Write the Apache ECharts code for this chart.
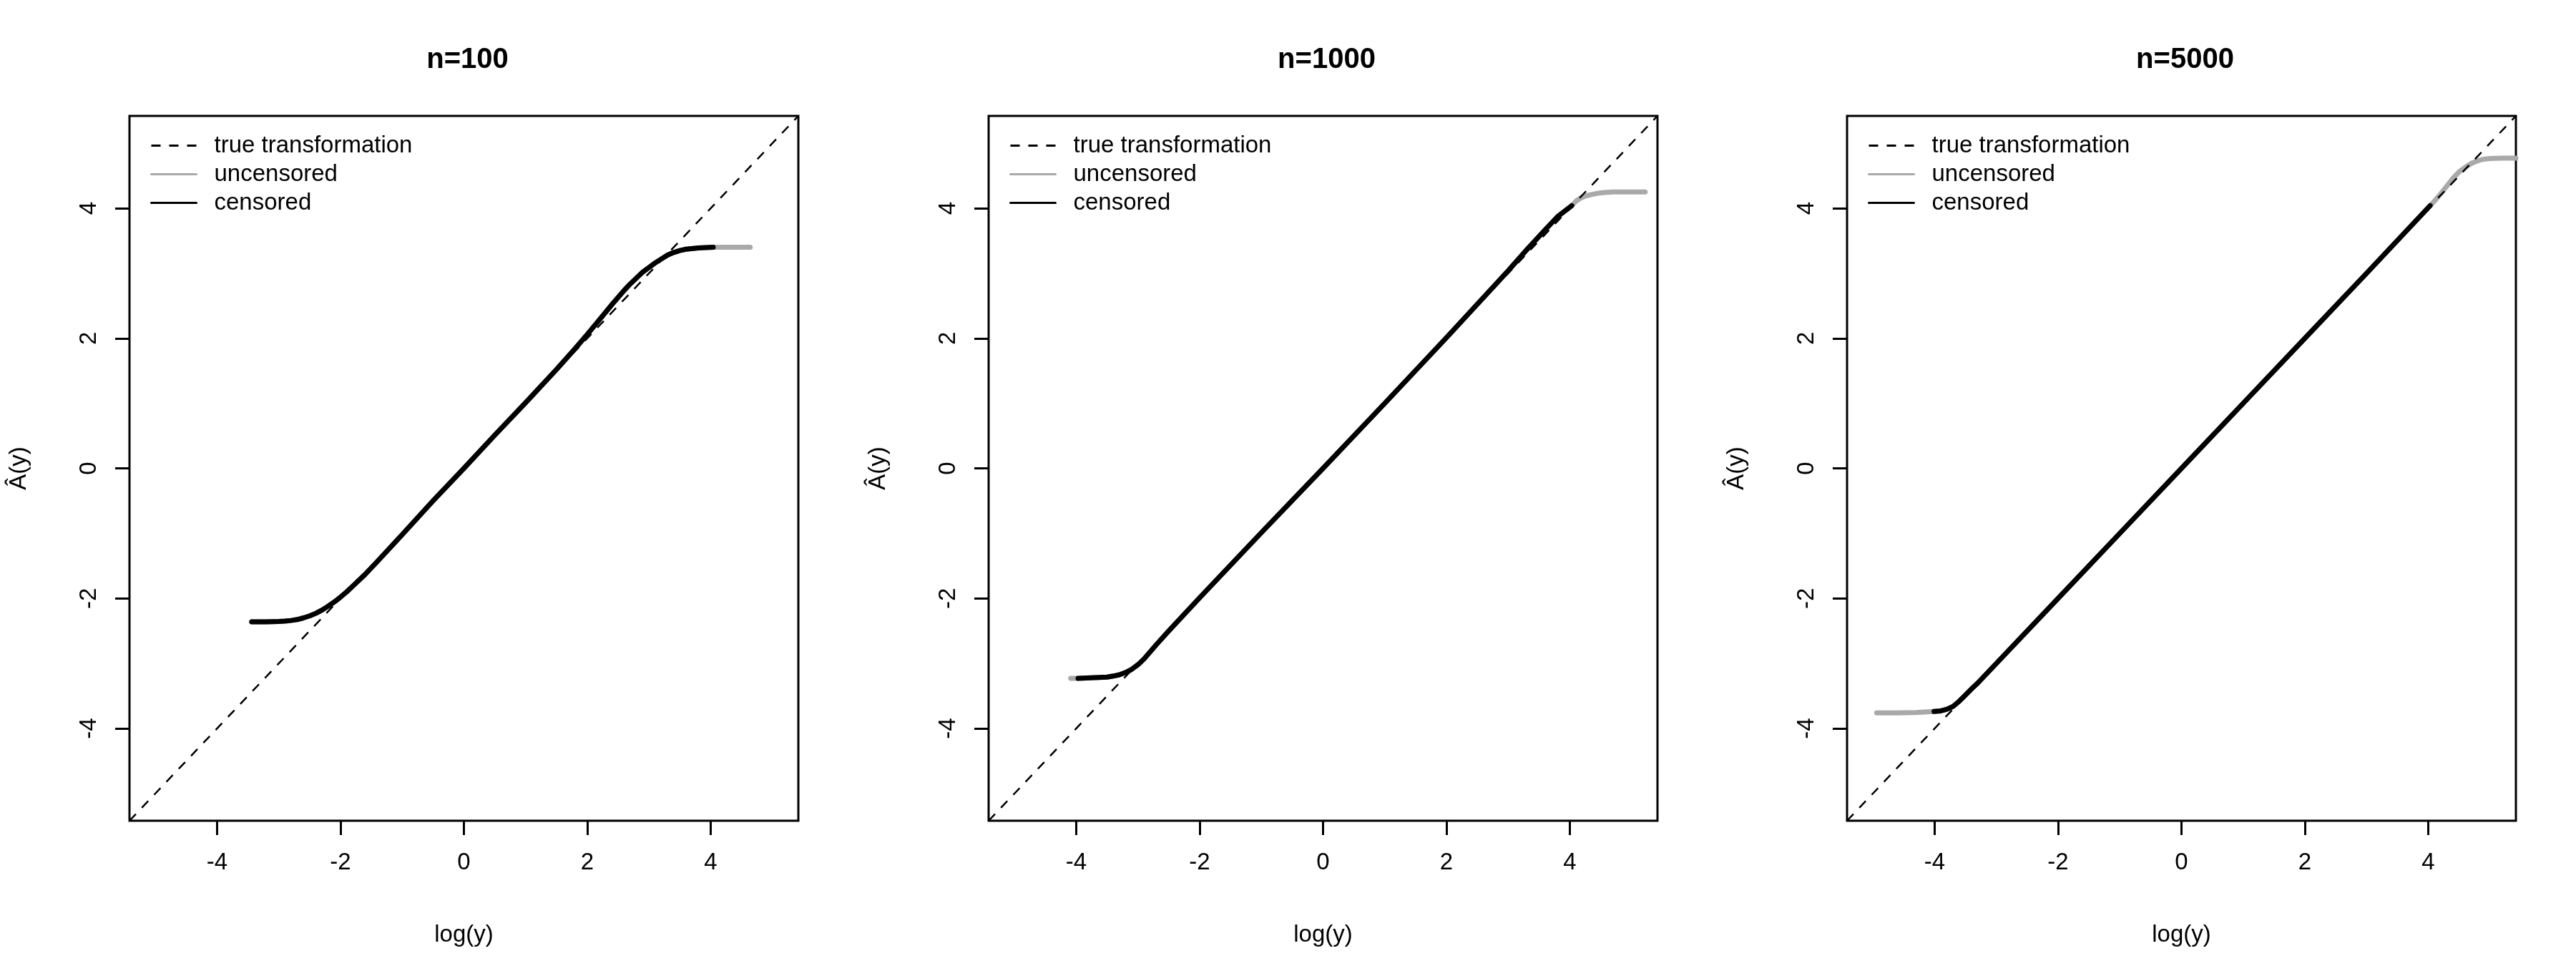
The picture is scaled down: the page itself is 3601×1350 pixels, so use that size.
<!DOCTYPE html>
<html>
<head>
<meta charset="utf-8">
<script src="https://cdn.jsdelivr.net/npm/echarts@6/dist/echarts.min.js"></script>
<style>
html,body{margin:0;padding:0;background:#fff;}
#chart{width:3601px;height:1350px;}
</style>
</head>
<body>
<div id="chart"></div>
<script>
// ---------- data ----------
const panelTitles = ['n=100', 'n=1000', 'n=5000'];
const legendNames = ['true transformation', 'uncensored', 'censored'];
const tickValues = [-4, -2, 0, 2, 4];
const xAxisTitle = 'log(y)';
const yAxisTitle = 'Â(y)';

// true transformation (identity line, corner to corner)
const trueX = [-5.42, 5.42];
const trueY = [-5.42, 5.42];

// n = 100
const cens100X = [-3.44,-3.2,-3.0,-2.9,-2.8,-2.7,-2.6,-2.5,-2.4,-2.3,-2.2,-2.1,-2.0,-1.9,-1.8,-1.6,-1.4,-1.0,-0.5,0,0.5,1.0,1.5,1.8,2.0,2.2,2.4,2.6,2.7,2.8,2.9,3.0,3.1,3.2,3.3,3.4,3.5,3.6,3.8,4.04];
const cens100Y = [-2.36,-2.36,-2.355,-2.35,-2.34,-2.325,-2.30,-2.27,-2.23,-2.18,-2.12,-2.055,-1.98,-1.90,-1.81,-1.63,-1.43,-1.02,-0.50,0.0,0.51,1.01,1.52,1.84,2.06,2.29,2.52,2.74,2.84,2.93,3.02,3.09,3.16,3.22,3.28,3.32,3.35,3.37,3.39,3.40];
const unc100X = [-3.44,-3.2,-3.0,-2.9,-2.8,-2.7,-2.6,-2.5,-2.4,-2.3,-2.2,-2.1,-2.0,-1.9,-1.8,-1.6,-1.4,-1.0,-0.5,0,0.5,1.0,1.5,1.8,2.0,2.2,2.4,2.6,2.7,2.8,2.9,3.0,3.1,3.2,3.3,3.4,3.5,3.6,3.8,4.04,4.3,4.64];
const unc100Y = [-2.36,-2.36,-2.355,-2.35,-2.34,-2.325,-2.30,-2.27,-2.23,-2.18,-2.12,-2.055,-1.98,-1.90,-1.81,-1.63,-1.43,-1.02,-0.50,0.0,0.51,1.01,1.52,1.84,2.06,2.29,2.52,2.74,2.84,2.93,3.02,3.09,3.16,3.22,3.28,3.32,3.35,3.37,3.39,3.40,3.40,3.40];

// n = 1000
const cens1000X = [-3.97,-3.7,-3.5,-3.4,-3.3,-3.2,-3.1,-3.0,-2.9,-2.8,-2.7,-2.5,-2.0,-1.0,0,1.0,2.0,3.0,3.3,3.6,3.8,4.03];
const cens1000Y = [-3.23,-3.22,-3.21,-3.195,-3.175,-3.14,-3.09,-3.02,-2.93,-2.82,-2.71,-2.50,-1.99,-0.99,0.0,1.0,2.01,3.04,3.36,3.67,3.87,4.04];
const unc1000X = [-4.09,-3.97,-3.7,-3.5,-3.4,-3.3,-3.2,-3.1,-3.0,-2.9,-2.8,-2.7,-2.5,-2.0,-1.0,0,1.0,2.0,3.0,3.3,3.6,3.8,4.03,4.1,4.18,4.26,4.35,4.45,4.53,4.7,5.0,5.22];
const unc1000Y = [-3.23,-3.23,-3.22,-3.21,-3.195,-3.175,-3.14,-3.09,-3.02,-2.93,-2.82,-2.71,-2.50,-1.99,-0.99,0.0,1.0,2.01,3.04,3.36,3.67,3.87,4.04,4.11,4.16,4.19,4.21,4.23,4.24,4.25,4.25,4.25];

// n = 5000
const cens5000X = [-4.01,-3.9,-3.8,-3.7,-3.6,-3.5,-3.4,-3.3,-3.0,-2.0,-1.0,0,1.0,2.0,3.0,4.03];
const cens5000Y = [-3.74,-3.73,-3.705,-3.66,-3.58,-3.485,-3.39,-3.30,-3.0,-2.0,-1.0,0,1.0,2.0,3.0,4.04];
const unc5000X = [-4.94,-4.6,-4.3,-4.01,-3.9,-3.8,-3.7,-3.6,-3.5,-3.4,-3.3,-3.0,-2.0,-1.0,0,1.0,2.0,3.0,4.03,4.1,4.2,4.3,4.4,4.5,4.6,4.7,4.8,4.9,5.0,5.2,5.42];
const unc5000Y = [-3.76,-3.76,-3.755,-3.74,-3.73,-3.705,-3.66,-3.58,-3.485,-3.39,-3.30,-3.0,-2.0,-1.0,0,1.0,2.0,3.0,4.04,4.11,4.22,4.34,4.46,4.56,4.63,4.69,4.73,4.755,4.765,4.77,4.77];

const censX = [cens100X, cens1000X, cens5000X];
const censY = [cens100Y, cens1000Y, cens5000Y];
const uncX = [unc100X, unc1000X, unc5000X];
const uncY = [unc100Y, unc1000Y, unc5000Y];

// ---------- chart ----------
const zip = (xs, ys) => xs.map((x, i) => [x, ys[i]]);
const FONT = '"Liberation Sans", Arial, Helvetica, sans-serif';
const panelLeft = [181, 1382, 2582];
const panelW = 935, panelTop = 162, panelH = 985;
const axMin = -5.42, axMax = 5.42;

const grids = [], xAxes = [], yAxes = [], series = [], titles = [], legends = [];
for (let i = 0; i < 3; i++) {
  grids.push({
    left: panelLeft[i], top: panelTop, width: panelW, height: panelH,
    show: true, borderColor: '#000', borderWidth: 3, backgroundColor: 'transparent',
    containLabel: false
  });
  const axisCommon = {
    type: 'value', gridIndex: i, min: axMin, max: axMax,
    axisLine: { show: false, onZero: false },
    splitLine: { show: false },
    axisTick: { show: true, customValues: tickValues, length: 20, lineStyle: { color: '#000', width: 3 } },
    nameLocation: 'middle',
    nameTextStyle: { fontSize: 33, color: '#000', fontFamily: FONT }
  };
  xAxes.push(Object.assign({}, axisCommon, {
    position: 'bottom',
    name: xAxisTitle, nameGap: 143,
    axisLabel: { customValues: tickValues, fontSize: 33, color: '#000', fontFamily: FONT, margin: 42 }
  }));
  yAxes.push(Object.assign({}, axisCommon, {
    position: 'left',
    name: yAxisTitle, nameGap: 138, nameRotate: 90,
    axisLabel: { customValues: tickValues, fontSize: 33, color: '#000', fontFamily: FONT, margin: 40, rotate: 90 }
  }));
  titles.push({
    text: panelTitles[i],
    left: panelLeft[i] + panelW / 2, top: 59, textAlign: 'center',
    textStyle: { fontSize: 40, fontWeight: 'bold', color: '#000', fontFamily: FONT }
  });
  legends.push({
    data: legendNames,
    orient: 'vertical',
    left: panelLeft[i] + 24, top: 182,
    itemWidth: 63, itemHeight: 14, itemGap: 7,
    selectedMode: false,
    itemStyle: { opacity: 0 },
    lineStyle: { width: 3 },
    textStyle: { fontSize: 33, color: '#000', fontFamily: FONT, lineHeight: 33, padding: [0, 0, 0, 20] }
  });
  series.push({
    name: 'uncensored', type: 'line', xAxisIndex: i, yAxisIndex: i,
    data: zip(uncX[i], uncY[i]), showSymbol: false, symbol: 'none',
    smooth: false,
    lineStyle: { color: '#a9a9a9', width: 7, cap: 'round', join: 'round' },
    itemStyle: { color: '#a9a9a9' }, silent: true, animation: false
  });
  series.push({
    name: 'censored', type: 'line', xAxisIndex: i, yAxisIndex: i,
    data: zip(censX[i], censY[i]), showSymbol: false, symbol: 'none',
    smooth: false,
    lineStyle: { color: '#000', width: 7, cap: 'round', join: 'round' },
    itemStyle: { color: '#000' }, silent: true, animation: false
  });
  series.push({
    name: 'true transformation', type: 'line', xAxisIndex: i, yAxisIndex: i,
    data: zip(trueX, trueY), showSymbol: false, symbol: 'none',
    lineStyle: { color: '#000', width: 2.5, type: [13, 12] },
    itemStyle: { color: '#000' }, silent: true, animation: false
  });
}

const chart = echarts.init(document.getElementById('chart'), null, { renderer: 'canvas' });
chart.setOption({
  backgroundColor: '#fff',
  animation: false,
  title: titles,
  legend: legends,
  grid: grids,
  xAxis: xAxes,
  yAxis: yAxes,
  series: series
});
</script>
</body>
</html>
